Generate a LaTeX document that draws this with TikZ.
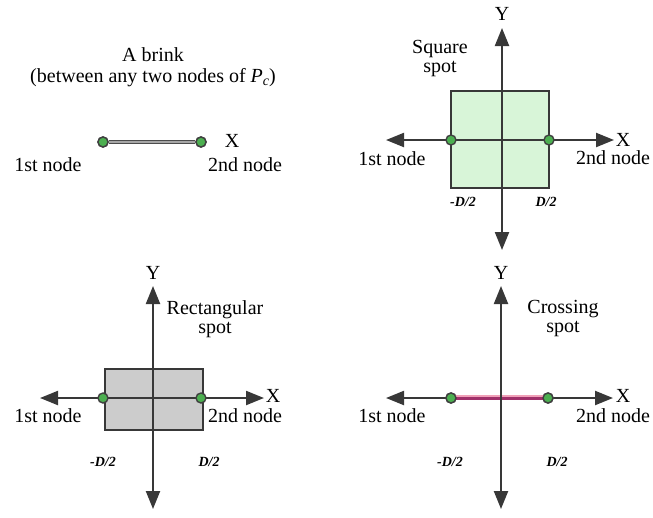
\documentclass[tikz,border=0pt]{standalone}
\usepackage{fontspec}
\setmainfont{Liberation Serif}
\usetikzlibrary{arrows.meta}
\definecolor{axis}{HTML}{383838}
\definecolor{dotg}{HTML}{4CAF50}
\definecolor{sqg}{HTML}{D8F5D8}
\definecolor{rectg}{HTML}{CCCCCC}
\definecolor{mag}{HTML}{A0306A}
\definecolor{pinkl}{HTML}{F0A0B8}
\tikzset{
  ax/.style={draw=axis, line width=2.2pt, -{Triangle[length=18pt,width=14pt]}},
  dotn/.style={circle, fill=dotg, draw=black!75, line width=1.4pt, inner sep=0pt, minimum size=10pt},
  lbl/.style={font=\fontsize{20}{19}\selectfont, inner sep=0pt, align=center},
  dlbl/.style={font=\fontsize{14}{14}\selectfont\bfseries\itshape, inner sep=0pt},
}
\begin{document}
\begin{tikzpicture}[x=1pt,y=-1pt]
\useasboundingbox (0,0) rectangle (653,517);
% ---------- Panel 1: brink ----------
\node[lbl, font=\fontsize{20}{21}\selectfont] (t1) at (153,67) {A brink\\(between any two nodes of \textit{P}\raisebox{-0.35ex}{\fontsize{14}{14}\selectfont\textit{c}})};
\node[dotn] (a1) at (103,142) {};
\node[dotn] (b1) at (201,142) {};
\draw[axis!90, line width=3.6pt] (a1) -- (b1);
\draw[gray!70, line width=1.4pt] (a1) -- (b1);
\node[dotn] at (a1) {};
\node[dotn] at (b1) {};
\node[lbl] (x1) at (232,141) {X};
\node[lbl] (n11) at (48,165) {1st node};
\node[lbl] (n12) at (245,165) {2nd node};
% ---------- Panel 2: square spot ----------
\coordinate (o2) at (502,140);
\fill[sqg] (451,91) rectangle (549,188);
\draw[axis, line width=1.6pt] (451,91) rectangle (549,188);
\coordinate (yt2) at (502,28);
\coordinate (yb2) at (502,250);
\coordinate (xl2) at (386,140);
\coordinate (xr2) at (614,140);
\draw[ax] (o2) -- (yt2);
\draw[ax] (o2) -- (yb2);
\draw[ax] (o2) -- (xl2);
\draw[ax] (o2) -- (xr2);
\node[dotn] (a2) at (451,140) {};
\node[dotn] (b2) at (549,140) {};
\node[lbl] (y2) at (502,14) {Y};
\node[lbl] (x2) at (623,140) {X};
\node[lbl] (s2) at (440,59) {Square\\spot};
\node[lbl] (n21) at (392,159) {1st node};
\node[lbl] (n22) at (613,158) {2nd node};
\node[dlbl] (d21) at (463,202) {-D/2};
\node[dlbl] (d22) at (546,202) {D/2};
% ---------- Panel 3: rectangular spot ----------
\coordinate (o3) at (153,398);
\fill[rectg] (105,369) rectangle (203,430);
\draw[axis, line width=1.6pt] (105,369) rectangle (203,430);
\coordinate (yt3) at (153,286);
\coordinate (yb3) at (153,509);
\coordinate (xl3) at (40,398);
\coordinate (xr3) at (264,398);
\draw[ax] (o3) -- (yt3);
\draw[ax] (o3) -- (yb3);
\draw[ax] (o3) -- (xl3);
\draw[ax] (o3) -- (xr3);
\node[dotn] (a3) at (103,398) {};
\node[dotn] (b3) at (201,398) {};
\node[lbl] (y3) at (153,273) {Y};
\node[lbl] (x3) at (273,396) {X};
\node[lbl] (s3) at (215,319) {Rectangular\\spot};
\node[lbl] (n31) at (48,416) {1st node};
\node[lbl] (n32) at (245,416) {2nd node};
\node[dlbl] (d31) at (103,462) {-D/2};
\node[dlbl] (d32) at (209,462) {D/2};
% ---------- Panel 4: crossing spot ----------
\coordinate (o4) at (501,398);
\coordinate (yt4) at (501,286);
\coordinate (yb4) at (501,509);
\coordinate (xl4) at (386,398);
\coordinate (xr4) at (613,398);
\draw[ax] (o4) -- (yt4);
\draw[ax] (o4) -- (yb4);
\draw[ax] (o4) -- (xl4);
\draw[ax] (o4) -- (xr4);
\node[dotn] (a4) at (451,398) {};
\node[dotn] (b4) at (548,398) {};
\draw[pinkl, line width=1.4pt] ([yshift=2pt]a4.center) -- ([yshift=2pt]b4.center);
\draw[mag, line width=3.4pt] ([yshift=-0.5pt]a4.center) -- ([yshift=-0.5pt]b4.center);
\draw[axis, line width=2.2pt] (501,391) -- (501,405);
\node[dotn] at (a4) {};
\node[dotn] at (b4) {};
\node[lbl] (y4) at (501,273) {Y};
\node[lbl] (x4) at (623,396) {X};
\node[lbl] (s4) at (563,319) {Crossing\\spot};
\node[lbl] (n41) at (392,416) {1st node};
\node[lbl] (n42) at (613,416) {2nd node};
\node[dlbl] (d41) at (450,462) {-D/2};
\node[dlbl] (d42) at (557,462) {D/2};
\end{tikzpicture}
\end{document}
